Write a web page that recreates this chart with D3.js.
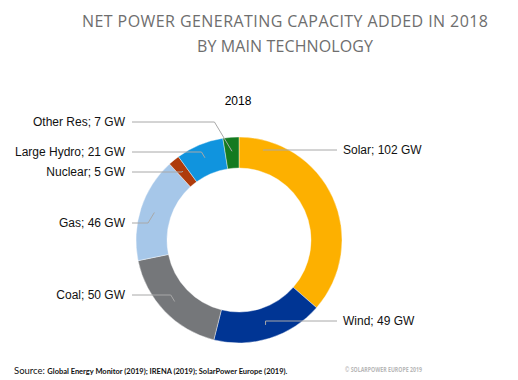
<!DOCTYPE html>
<html>
<head>
<meta charset="utf-8">
<script src="https://cdn.jsdelivr.net/npm/d3@7"></script>
<style>
  body { margin: 0; background: #fff; }
  svg { display: block; }
</style>
</head>
<body>
<div id="chart"></div>
<script>
// Data
const technologies = ["Solar", "Wind", "Coal", "Gas", "Nuclear", "Large Hydro", "Other Res"];
const capacityGW = [102, 49, 50, 46, 5, 21, 7];
const sliceColors = ["#FDB000", "#003594", "#75777A", "#A6C7E9", "#AE3B0C", "#1094DE", "#147A20"];

// Label layout (y of each label, side, optional anchor angle in degrees)
const labelY = [150, 321, 295, 223, 172, 152, 122];
const labelSide = ["right", "right", "left", "left", "left", "left", "left"];
const anchorDeg = [15, null, null, null, null, null, null];

const W = 518, H = 380;
const cx = 239, cy = 240;
const outerR = 103, innerR = 72;

const svg = d3.select("#chart").append("svg")
    .attr("width", W)
    .attr("height", H);

// Title
const title = svg.append("g")
    .style("font-family", "'Open Sans', sans-serif")
    .style("font-size", "16px")
    .attr("fill", "#6e6e6e")
    .attr("text-anchor", "middle");
title.append("text").attr("x", 285).attr("y", 27)
    .attr("textLength", 406).attr("lengthAdjust", "spacing")
    .text("NET POWER GENERATING CAPACITY ADDED IN 2018");
title.append("text").attr("x", 285).attr("y", 52)
    .attr("textLength", 176).attr("lengthAdjust", "spacing")
    .text("BY MAIN TECHNOLOGY");

// Sub-title "2018"
svg.append("text")
    .attr("x", 238).attr("y", 101)
    .attr("dy", "0.35em")
    .attr("text-anchor", "middle")
    .style("font-family", "'Liberation Sans', Arial, sans-serif")
    .style("font-size", "12px")
    .text("2018");

const rows = technologies.map((t, i) => ({
    name: t, value: capacityGW[i], color: sliceColors[i],
    ly: labelY[i], side: labelSide[i], anchor: anchorDeg[i]
}));

const pie = d3.pie().sort(null).value(d => d.value);
const arc = d3.arc().innerRadius(innerR).outerRadius(outerR);
const arcs = pie(rows);

const g = svg.append("g").attr("transform", `translate(${cx},${cy})`);
g.selectAll("path")
    .data(arcs)
    .enter()
    .append("path")
    .attr("d", arc)
    .attr("fill", d => d.data.color)
    .attr("stroke", "#fff")
    .attr("stroke-width", 0.4);

// Leader lines
const midR = 89;
const centroidArc = d3.arc().innerRadius(midR).outerRadius(midR);
arcs.forEach(d => {
    let ax, ay;
    if (d.data.anchor != null) {
        const a = d.data.anchor * Math.PI / 180;
        ax = cx + 93 * Math.sin(a);
        ay = cy - 93 * Math.cos(a);
    } else {
        const c = centroidArc.centroid(d);
        ax = cx + c[0];
        ay = cy + c[1];
    }
    const y = d.data.ly;
    let pts;
    if (d.data.side === "right") {
        pts = [[337, y], [ax + (Math.abs(ay - y) < 3 ? 0 : 0), y], [ax, ay]];
    } else {
        const elbowX = Math.min(ax - (Math.abs(ay - y) * 0.6), ax);
        pts = [[132, y], [elbowX, y], [ax, ay]];
    }
    svg.append("path")
        .attr("d", d3.line()(pts))
        .attr("fill", "none")
        .attr("stroke", "#a8a8a8")
        .attr("stroke-width", 1);

    svg.append("text")
        .attr("x", d.data.side === "right" ? 343 : 125)
        .attr("y", y)
        .attr("dy", "0.35em")
        .attr("text-anchor", d.data.side === "right" ? "start" : "end")
        .style("font-family", "'Liberation Sans', Arial, sans-serif")
        .style("font-size", "12px")
        .attr("fill", "#111")
        .text(`${d.data.name}; ${d.data.value} GW`);
});

// Footer
const src = svg.append("text")
    .attr("x", 14).attr("y", 374)
    .style("font-family", "Lato, 'Open Sans', sans-serif")
    .attr("fill", "#111");
src.append("tspan").style("font-size", "9.5px").text("Source: ");
src.append("tspan").style("font-size", "7px").style("font-weight", "bold")
    .attr("textLength", 240).attr("lengthAdjust", "spacingAndGlyphs")
    .text("Global Energy Monitor (2019); IRENA (2019); SolarPower Europe (2019).");

svg.append("text")
    .attr("x", 422).attr("y", 372)
    .attr("text-anchor", "end")
    .attr("textLength", 77).attr("lengthAdjust", "spacingAndGlyphs")
    .style("font-family", "'Open Sans', sans-serif")
    .style("font-size", "6.5px")
    .style("font-weight", "bold")
    .attr("fill", "#b8b8b8")
    .text("© SOLARPOWER EUROPE 2019");
</script>
</body>
</html>
